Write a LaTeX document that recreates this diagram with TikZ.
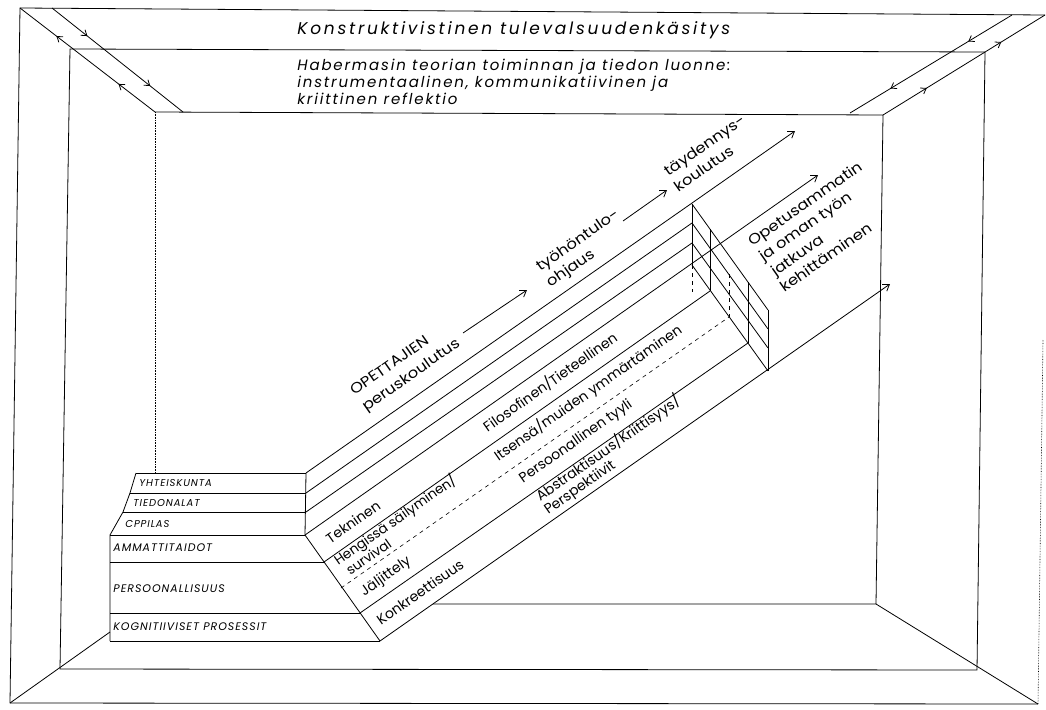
\documentclass[tikz,border=0pt]{standalone}
\usepackage{graphicx}
\usepackage{fontspec}
\setmainfont{Poppins}
\newfontfamily\titlefont[LetterSpace=16]{Poppins}
\newfontfamily\habfont[LetterSpace=12]{Poppins}
\newfontfamily\boxfont[LetterSpace=9]{Poppins}
\newcommand\widetext[1]{\scalebox{1.13}[1]{#1}}
\usetikzlibrary{arrows.meta,decorations.markings}
\begin{document}
\begin{tikzpicture}[x=1pt,y=-1pt,line width=0.8pt,
  tip/.style={-{Straight Barb[length=6pt,width=8pt]}},
  fwdmarks/.style={postaction={decorate},decoration={markings,
     mark=at position 0.27 with {\arrow{Straight Barb[length=5pt,width=7pt]}},
     mark=at position 0.75 with {\arrow{Straight Barb[length=5pt,width=7pt]}}}},
  bwdmarks/.style={postaction={decorate},decoration={markings,
     mark=at position 0.27 with {\arrowreversed{Straight Barb[length=5pt,width=7pt]}},
     mark=at position 0.73 with {\arrowreversed{Straight Barb[length=5pt,width=7pt]}}}},
  rl/.style={rotate=35,inner sep=0pt,font=\fontsize{14}{16}\selectfont},
  rlb/.style={rl,anchor=base west},
  pl/.style={rotate=35,inner sep=0pt,anchor=base west,font=\fontsize{14.5}{17}\selectfont},
  blsmall/.style={anchor=west,inner sep=0pt,font=\boxfont\itshape\fontsize{10}{12}\selectfont},
  bl/.style={anchor=west,inner sep=0pt,font=\boxfont\itshape\fontsize{11}{13}\selectfont},
  hidden/.style={dashed,dash pattern=on 4pt off 4pt,line width=0.6pt}]
\useasboundingbox (0,0) rectangle (1046,709);
% ---------- room frames ----------
\coordinate (O1) at (20,8);   \coordinate (O2) at (1045,15);
\coordinate (O3) at (1038,704); \coordinate (O4) at (10,703);
\coordinate (M1) at (70,49);  \coordinate (M2) at (985,52);
\coordinate (M3) at (977,670); \coordinate (M4) at (60,669);
\coordinate (B1) at (155,112); \coordinate (B2) at (883,115);
\coordinate (B3) at (876,604); \coordinate (BF) at (433,604);
\coordinate (T1) at (52,8);   \coordinate (T1e) at (183,112);
\coordinate (T2) at (1012,15); \coordinate (T2e) at (850,113);
\draw (O4) -- (O1) -- (O2);
\draw (O4) -- (O3);
\draw[densely dotted,line width=0.6pt] (1043,340) -- (O3);
\draw (M1) -- (M2) -- (M3) -- (M4) -- cycle;
\draw (B1) -- (B2) -- (B3) -- (BF);
\draw[densely dotted,line width=0.6pt] (B1) -- (155,473);
% corner diagonals
\draw[bwdmarks] (O1) -- (B1);
\draw[fwdmarks] (T1) -- (T1e);
\draw[fwdmarks] (T2) -- (T2e);
\draw[bwdmarks] (O2) -- (B2);
\draw (O4) -- (110,632);
\draw (B3) -- (O3);
% ---------- stacked boxes ----------
\coordinate (S1) at (306,473); \coordinate (S2) at (306,493);
\coordinate (S3) at (306,512); \coordinate (S4) at (305,535);
\coordinate (S5) at (324,562); \coordinate (S6) at (341,588);
\coordinate (S7) at (360,613); \coordinate (S8) at (380,641);
\draw (136,473) -- (130,493) -- (123,512) -- (110,535) -- (110,641);
\draw (136,473) -- (S1); \draw (130,493) -- (S2); \draw (123,512) -- (S3);
\draw (110,535) -- (S4); \draw (110,562) -- (S5); \draw (110,613) -- (S7);
\draw (110,641) -- (S8);
\draw (S1) -- (S4);
\draw (S4) -- (S8);
% ---------- extruded bands ----------
\coordinate (EA) at (795,131); \coordinate (EB) at (692,223);
\coordinate (EC) at (692,243); \coordinate (ED) at (818,175);
\coordinate (EE) at (710,291); \coordinate (ES) at (729,317);
\coordinate (EF) at (748,343); \coordinate (EG) at (890,284);
\draw[tip] (S1) -- (EA);
\draw (S2) -- (EB);
\draw (S3) -- (EC);
\draw[tip] (S4) -- (ED);
\draw (S5) -- (EE);
\draw[hidden] (S6) -- (ES);
\draw (S7) -- (EF);
\draw[tip] (S8) -- (EG);
% ---------- end block ----------
\coordinate (K1) at (692,204); \coordinate (K4) at (692,265);
\draw (K1) -- (768,310);
\draw (EB) -- (768,329);
\draw (EC) -- (768,348);
\draw (K4) -- (768,371);
\draw (K1) -- (K4);
\draw[hidden] (K4) -- (692,292);
\draw (710,229) -- (EE);
\draw[hidden] (729,274) -- (ES);
\draw (748,282) -- (EF);
\draw (768,310) -- (768,371);
% ---------- top texts ----------
\node[anchor=west,inner sep=0pt,font=\titlefont\itshape\fontsize{17}{20}\selectfont] (title) at (297,30) {Konstruktivistinen tulevalsuudenkäsitys};
\node[anchor=west,align=left,inner sep=0pt,font=\habfont\itshape\fontsize{15}{17}\selectfont] (hab) at (297,82) {Habermasin teorian toiminnan ja tiedon luonne:\\instrumentaalinen, kommunikatiivinen ja\\kriittinen reflektio};
% ---------- box labels ----------
\node[blsmall] (l1) at (139,483) {YHTEISKUNTA};
\node[blsmall] (l2) at (133,503) {TIEDONALAT};
\node[blsmall] (l3) at (125,524) {CPPILAS};
\node[bl] (l4) at (113,548) {AMMATTITAIDOT};
\node[bl] (l5) at (113,589) {PERSOONALLISUUS};
\node[bl] (l6) at (113,627) {KOGNITIIVISET PROSESSIT};
% ---------- training path ----------
\node[pl] (opet1) at (354,396) {\widetext{OPETTAJIEN}};
\node[pl] (opet2) at (366,412) {\widetext{peruskoulutus}};
\node[pl] (tyoh1) at (540,272) {\widetext{työhöntulo-}};
\node[pl] (tyoh2) at (550,288) {\widetext{ohjaus}};
\node[pl] (tayd1) at (668,177) {\widetext{täydennys-}};
\node[pl] (tayd2) at (678,193) {\widetext{koulutus}};
\node[pl] (opam1) at (752,247) {\widetext{Opetusammatin}};
\node[pl] (opam2) at (763,262) {\widetext{ja oman työn}};
\node[pl] (opam3) at (775,277) {\widetext{jatkuva}};
\node[pl] (opam4) at (784,293) {\widetext{kehittäminen}};
\coordinate (a1s) at (463,333); \coordinate (a1e) at (527,290);
\coordinate (a2s) at (623,221); \coordinate (a2e) at (667,190);
\draw[tip] (a1s) -- (a1e);
\draw[tip] (a2s) -- (a2e);
% ---------- band labels ----------
\node[rl] (tek) at (353,522) {Tekninen};
\node[rl] (fil) at (550,382) {Filosofinen/Tieteellinen};
\node[rlb,font=\fontsize{13.5}{15}\selectfont] (hen1) at (338,566) {Hengissä säilyminen/};
\node[rlb,font=\fontsize{13.5}{15}\selectfont] (hen2) at (350,576) {survival};
\node[rl] (its) at (588,393) {Itsensä/muiden ymmärtäminen};
\node[rl] (jal) at (386,577) {Jäljittely};
\node[rl] (per) at (576,442) {Persoonallinen tyyli};
\node[rl] (kon) at (420,592) {Konkreettisuus};
\node[rlb] (abs1) at (540,502) {Abstraktisuus/Kriittisyys/};
\node[rlb] (abs2) at (548,515) {Perspektiivit};
\end{tikzpicture}
\end{document}
